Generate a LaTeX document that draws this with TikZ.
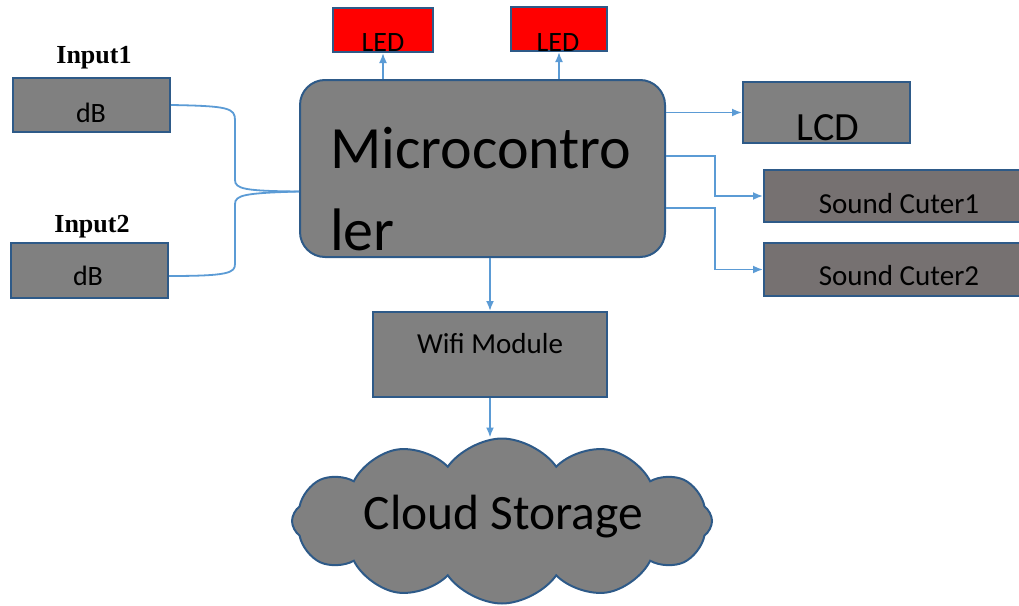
\documentclass[tikz,border=0pt]{standalone}
\usepackage{fontspec}
\setmainfont{Carlito}
\newfontfamily\serifb{Liberation Serif}
\usetikzlibrary{shapes.symbols,arrows.meta}
\definecolor{edge}{HTML}{2E5A88}
\definecolor{link}{HTML}{5B9BD5}
\definecolor{boxgray}{HTML}{808080}
\definecolor{warmgray}{HTML}{767171}
\definecolor{ledred}{HTML}{FF0000}
\begin{document}
\begin{tikzpicture}[x=1pt,y=-1pt,
 box/.style={draw=edge, line width=2pt, fill=boxgray, inner sep=0pt},
 txt/.style={anchor=base, inner sep=0pt, text=black},
 conn/.style={draw=link, line width=1.8pt, -{Latex[length=10pt,width=8pt]}},
 wire/.style={draw=link, line width=1.8pt}]
\useasboundingbox (0,0) rectangle (1019,605);

% boxes
\node[box, minimum width=157pt, minimum height=54pt] (db1) at (91.5,105) {};
\node[box, minimum width=157pt, minimum height=55pt] (db2) at (89.5,270.5) {};
\node[box, rounded corners=25pt, minimum width=365pt, minimum height=177pt] (mcu) at (482.5,168.5) {};
\node[box, fill=ledred, minimum width=100pt, minimum height=44pt] (led1) at (383,30) {};
\node[box, fill=ledred, minimum width=96pt, minimum height=44pt] (led2) at (559,29) {};
\node[box, minimum width=167pt, minimum height=61pt] (lcd) at (826.5,112.5) {};
\node[box, fill=warmgray, minimum width=270pt, minimum height=52pt] (sc1) at (899,196) {};
\node[box, fill=warmgray, minimum width=270pt, minimum height=53pt] (sc2) at (899,269.5) {};
\node[box, minimum width=234pt, minimum height=85pt] (wifi) at (490,354.5) {};
\node[box, cloud, cloud puffs=12, cloud puff arc=110, aspect=2.5,
      minimum width=420pt, minimum height=165pt] (cloud) at (502,521) {};

% texts
\node[txt, font=\serifb\bfseries\fontsize{26}{28}\selectfont] (in1) at (94,63) {Input1};
\node[txt, font=\serifb\bfseries\fontsize{26}{28}\selectfont] (in2) at (92,232) {Input2};
\node[txt, font=\fontsize{28}{32}\selectfont] (db1t) at (91,122) {dB};
\node[txt, font=\fontsize{28}{32}\selectfont] (db2t) at (88,285) {dB};
\node[txt, font=\fontsize{28}{32}\selectfont] (led1t) at (383,51) {LED};
\node[txt, font=\fontsize{28}{32}\selectfont] (led2t) at (558,51) {LED};
\node[txt, font=\fontsize{40}{44}\selectfont] (lcdt) at (828,140) {LCD};
\node[txt, font=\fontsize{29}{32}\selectfont] (sc1t) at (899,213) {Sound Cuter1};
\node[txt, font=\fontsize{29}{32}\selectfont] (sc2t) at (899,285) {Sound Cuter2};
\node[txt, font=\fontsize{29}{32}\selectfont] (wifit) at (490,353) {Wifi Module};
\node[txt, font=\fontsize{49.5}{54}\selectfont] (cloudt) at (503.5,529) {Cloud Storage};
\node[txt, anchor=base west, font=\fontsize{60}{64}\selectfont] (mcut1) at (330,168) {Microcontro};
\node[txt, anchor=base west, font=\fontsize{60}{64}\selectfont] (mcut2) at (330,250) {ler};

% connectors
\draw[conn] (led1.south |- mcu.north) -- (led1.south);
\draw[conn] (led2.south |- mcu.north) -- (led2.south);
\draw[conn] (mcu.east |- lcd.west) -- (lcd.west);
\draw[conn] ([yshift=12.5pt]mcu.east) -- ++(49,0) |- (sc1.west);
\draw[conn] ([yshift=-39.5pt]mcu.east) -- ++(49,0) |- (sc2.west);
\draw[conn] (wifi.north |- mcu.south) -- (wifi.north);
\draw[conn] (wifi.south) -- (wifi.south |- cloud.north);

\draw[wire] (db1.east) .. controls (228,106) and (235,108) .. (235,120)
  -- (235,180) .. controls (235,189) and (245,191) .. ([yshift=-23pt]mcu.west);
\draw[wire] ([yshift=-5.5pt]db2.east) .. controls (228,276) and (235,273) .. (235,264)
  -- (235,204) .. controls (235,195) and (245,193) .. ([yshift=-23pt]mcu.west);
\end{tikzpicture}
\end{document}
